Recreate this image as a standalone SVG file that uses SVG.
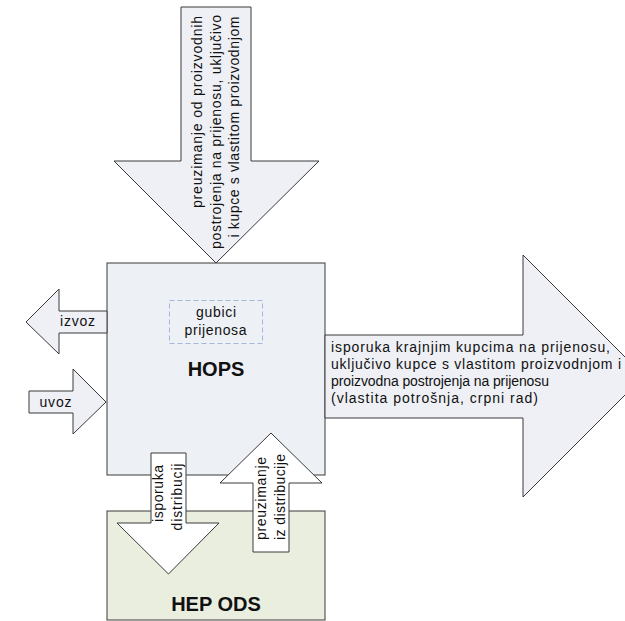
<svg xmlns="http://www.w3.org/2000/svg" width="625" height="621" viewBox="0 0 625 621">
<style>
.box{stroke:#3a3a3a;stroke-width:1}
.arr{fill:#eef0f5;stroke:#3a3a3a;stroke-width:1;stroke-linejoin:miter}
.warr{fill:#ffffff;stroke:#3a3a3a;stroke-width:1}
.t{font-family:"Liberation Sans",Arial,sans-serif;font-size:14px;fill:#111}
.b{font-family:"Liberation Sans",Arial,sans-serif;font-size:20px;font-weight:bold;fill:#111;text-anchor:middle}
</style>
<rect width="625" height="621" fill="#ffffff"/>
<g id="hops">
<rect class="box" x="107" y="263" width="218" height="212" fill="#edf0f5"/>
<text class="b" x="216" y="376">HOPS</text>
</g>
<g id="gubici">
<rect x="169.5" y="300.5" width="93" height="43" fill="none" stroke="#a3b9d8" stroke-width="1" stroke-dasharray="5,3"/>
<text class="t" x="196" y="317" textLength="40" lengthAdjust="spacing">gubici</text>
<text class="t" x="184.5" y="335" textLength="62" lengthAdjust="spacing">prijenosa</text>
</g>
<g id="hepods">
<rect class="box" x="107" y="511" width="218" height="109" fill="#eaeedf"/>
<text class="b" x="216" y="610.5">HEP ODS</text>
</g>
<g id="connectors">
<g id="preuzimanje-proizvodnja">
<polygon class="arr" points="181,7 251,7 251,161 319,161 216,263 114,161 181,161"/>
<text class="t" text-anchor="end" transform="translate(201.5,16) rotate(-90)" textLength="192" lengthAdjust="spacing">preuzimanje od proizvodnih</text>
<text class="t" text-anchor="end" transform="translate(220.5,15) rotate(-90)" textLength="234" lengthAdjust="spacing">postrojenja na prijenosu, uključivo</text>
<text class="t" text-anchor="end" transform="translate(238.5,16.5) rotate(-90)" textLength="221" lengthAdjust="spacing">i kupce s vlastitom proizvodnjom</text>
</g>
<g id="izvoz">
<polygon class="arr" points="26,322 59,289 59,311 107,311 107,333 59,333 59,354"/>
<text class="t" x="60" y="326" textLength="35" lengthAdjust="spacing">izvoz</text>
</g>
<g id="uvoz">
<polygon class="arr" points="29,391 73,391 73,369 106,402 73,434 73,413 29,413"/>
<text class="t" x="39.5" y="406.5" textLength="32" lengthAdjust="spacing">uvoz</text>
</g>
<g id="isporuka-krajnjim">
<polygon class="arr" points="325,335 523,335 523,255 644,376 523,497 523,418 325,418"/>
<text class="t" x="331" y="351.5" textLength="279" lengthAdjust="spacing">isporuka krajnjim kupcima na prijenosu,</text>
<text class="t" x="331" y="368.5" textLength="290" lengthAdjust="spacing">uključivo kupce s vlastitom proizvodnjom i</text>
<text class="t" x="331" y="385.5" textLength="218" lengthAdjust="spacing">proizvodna postrojenja na prijenosu</text>
<text class="t" x="331" y="402.5" textLength="207" lengthAdjust="spacing">(vlastita potrošnja, crpni rad)</text>
</g>
<g id="isporuka-distribuciji">
<polygon class="warr" points="151,453 186,453 186,523 219,523 168.5,574 117,523 151,523"/>
<text class="t" text-anchor="end" transform="translate(162.5,465) rotate(-90)" textLength="57" lengthAdjust="spacing">isporuka</text>
<text class="t" text-anchor="end" transform="translate(182,463.5) rotate(-90)" textLength="67" lengthAdjust="spacing">distribucij</text>
</g>
<g id="preuzimanje-distribucija">
<polygon class="warr" points="271,433 322,483 289,483 289,552 253,552 253,483 220,483"/>
<text class="t" transform="translate(266,540) rotate(-90)" textLength="83" lengthAdjust="spacing">preuzimanje</text>
<text class="t" transform="translate(285,540) rotate(-90)" textLength="86" lengthAdjust="spacing">iz distribucije</text>
</g>
</g>
</svg>
